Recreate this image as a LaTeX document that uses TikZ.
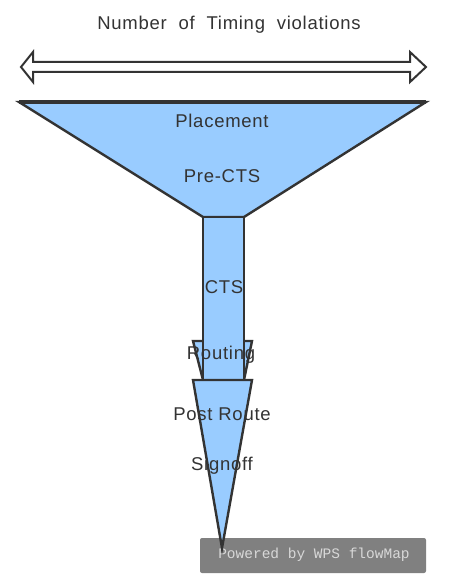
\documentclass[tikz,border=0pt]{standalone}
\usepackage{fontspec}
\setmainfont{Liberation Sans}
\newfontfamily\labelfont[LetterSpace=4]{Liberation Sans}
\newfontfamily\monofont{Liberation Mono}
\definecolor{funnelblue}{HTML}{99CCFF}
\definecolor{edgegray}{HTML}{333333}
\definecolor{boxgray}{HTML}{808080}
\definecolor{boxtext}{HTML}{D8D8D8}
\tikzset{
  shapeline/.style={draw=edgegray, line width=2.4pt, line join=miter, fill=funnelblue},
  label/.style={text=edgegray, font=\labelfont\fontsize{18.5}{20}\selectfont, inner sep=0pt},
}
\begin{document}
\begin{tikzpicture}[x=1pt,y=-1pt]
\useasboundingbox[fill=white] (0,0) rectangle (448,585);
% title
\node[label] (title) at (229,25) {Number\ \ of\ \ Timing\ \ violations};
% double arrow
\draw[draw=edgegray, line width=2pt, fill=white, line join=miter]
  (21,67) -- (33,52) -- (33,62) -- (410,62) -- (410,52) -- (426,67)
  -- (410,82) -- (410,72) -- (33,72) -- (33,82) -- cycle;
% funnel
\draw[shapeline] (19,102) -- (426,102) -- (244,217) -- (203,217) -- cycle;
\draw[draw=edgegray, line width=3.5pt] (19,102) -- (426,102);
% routing flare
\draw[shapeline] (193,341) -- (252,341) -- (244,380) -- (203,380) -- cycle;
% CTS column
\draw[shapeline] (203,217) rectangle (244,380);
% watermark box
\fill[boxgray, rounded corners=2pt] (200,538) rectangle (426,573);
\node[text=boxtext, font=\monofont\fontsize{14.5}{16}\selectfont, inner sep=0pt] (wps) at (314,555) {Powered by WPS flowMap};
% post route / signoff triangle
\draw[shapeline] (193,380) -- (252,380) -- (222,548) -- cycle;
% labels
\node[label] (placement) at (222,121) {Placement};
\node[label] (prects) at (222,176) {Pre-CTS};
\node[label] (cts) at (224,287) {CTS};
\node[label] (routing) at (221,355) {Routing};
\node[label] (postroute) at (222,414) {Post\ Route};
\node[label] (signoff) at (222,466) {Signoff};
\end{tikzpicture}
\end{document}
